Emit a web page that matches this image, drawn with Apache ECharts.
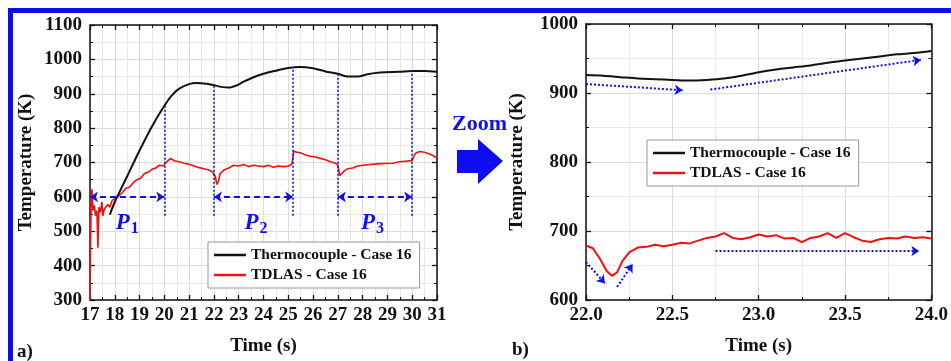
<!DOCTYPE html>
<html>
<head>
<meta charset="utf-8">
<script src="https://cdn.jsdelivr.net/npm/echarts@6/dist/echarts.min.js"></script>
<style>
html,body{margin:0;padding:0;background:#fff;}
#c{width:951px;height:361px;}
</style>
</head>
<body>
<div id="c"></div>
<script>
// ---------- Data ----------
// Panel a) thermocouple
var tcTimeA = [17.8,18.0,18.5,19.0,19.5,20.0,20.3,20.6,21.0,21.3,21.7,22.0,22.3,22.6,22.9,23.2,23.6,24.0,24.5,25.0,25.5,26.0,26.5,27.0,27.4,27.8,28.2,28.7,29.5,30.0,30.5,31.0];
var tcTempA = [548,585,660,735,805,865,895,915,928,931,929,925,920,918,924,935,948,958,967,975,978,974,965,958,950,950,957,962,964,966,966,964];
// Panel a) TDLAS
var tdTimeA = [17.00,17.02,17.05,17.08,17.12,17.18,17.22,17.28,17.32,17.36,17.42,17.48,17.52,17.58,17.65,17.72,17.80,17.90,18.00,18.15,18.30,18.45,18.60,18.75,18.90,19.05,19.20,19.35,19.50,19.65,19.80,19.95,20.10,20.25,20.40,20.60,20.80,21.00,21.20,21.40,21.60,21.80,21.95,22.05,22.12,22.18,22.25,22.40,22.60,22.80,23.00,23.20,23.40,23.60,23.80,24.00,24.20,24.40,24.60,24.80,25.00,25.15,25.22,25.35,25.50,25.70,25.90,26.10,26.30,26.50,26.70,26.90,27.00,27.08,27.15,27.25,27.40,27.60,27.80,28.00,28.30,28.60,28.90,29.20,29.50,29.80,30.00,30.12,30.30,30.50,30.70,30.90,31.00];
var tdTempA = [300,450,600,622,560,575,545,560,452,570,555,585,545,565,560,578,570,590,595,602,612,625,628,642,650,655,668,672,680,684,692,690,702,712,705,702,698,695,690,685,682,678,672,660,636,645,668,678,684,692,690,694,688,692,690,688,692,686,690,688,690,695,733,730,728,722,718,716,712,708,702,698,692,662,658,675,682,684,690,692,694,696,697,698,702,704,706,726,732,730,725,718,712];
// Panel b) thermocouple
var tcTimeB = [22.0,22.1,22.2,22.3,22.4,22.5,22.6,22.7,22.8,22.9,23.0,23.1,23.2,23.3,23.4,23.5,23.6,23.7,23.8,23.9,24.0];
var tcTempB = [926,925,923,921,920,919,918,919,921,925,930,934,937,940,944,947,950,953,956,958,961];
// Panel b) TDLAS
var tdTimeB = [22.00,22.04,22.08,22.12,22.15,22.18,22.21,22.25,22.30,22.35,22.40,22.45,22.50,22.55,22.60,22.65,22.70,22.75,22.80,22.85,22.90,22.95,23.00,23.05,23.10,23.15,23.20,23.25,23.30,23.35,23.40,23.45,23.50,23.55,23.60,23.65,23.70,23.75,23.80,23.85,23.90,23.95,24.00];
var tdTempB = [679,675,660,642,635,640,656,669,676,677,680,678,680,683,682,686,690,692,697,690,688,691,695,692,694,689,690,684,690,692,697,690,697,691,686,684,688,690,689,692,690,691,689];

// Annotations, panel a)
var periodStart = [17, 22, 27];
var periodEnd = [20, 25.2, 30];
var periodLevel = 600;
var dropTimes = [20, 22, 25.2, 27, 30];
var dropTops = [865, 925, 978, 958, 966];
var dropBottom = 545;
var pLabels = ['1', '2', '3'];
var pLabelTime = [18.5, 23.7, 28.4];
var pLabelTemp = 524;
// Annotations, panel b): [x0, y0, x1, y1]
var trendArrowsB = [
  [22.0, 913, 22.56, 904],
  [22.72, 905, 23.94, 948],
  [22.75, 671, 23.93, 671],
  [22.0, 655, 22.11, 624],
  [22.18, 619, 22.27, 652]
];

var seriesNames = ['Thermocouple - Case 16', 'TDLAS - Case 16'];

function zip(a, b) { return a.map(function (v, i) { return [v, b[i]]; }); }

var FONT = 'Liberation Serif';
var BLUE = '#1010ee';
var axisLineStyle = { color: '#111', width: 1.5 };

function mkX(grid, min, max, interval, showLabel, pos, name) {
  return {
    type: 'value', gridIndex: grid, min: min, max: max, interval: interval, position: pos,
    name: name || '', nameLocation: 'middle', nameGap: 37,
    nameTextStyle: { fontFamily: FONT, fontWeight: 'bold', fontSize: 19, color: '#111' },
    axisLine: { show: true, onZero: false, lineStyle: axisLineStyle },
    axisTick: { show: true, inside: true, length: 5, lineStyle: { color: '#111', width: 1.3 } },
    minorTick: { show: true, splitNumber: 2, length: 3, lineStyle: { color: '#111', width: 1 } },
    axisLabel: { show: showLabel, margin: 6, fontFamily: FONT, fontWeight: 'bold', fontSize: 19, color: '#111',
      formatter: function (v) { return interval < 1 ? v.toFixed(1) : String(v); } },
    splitLine: { show: showLabel, lineStyle: { color: '#dcdcdc', width: 1 } },
    minorSplitLine: { show: showLabel, lineStyle: { color: '#e8e8e8', width: 1 } }
  };
}
function mkY(grid, min, max, interval, showLabel, pos, name, gap) {
  return {
    type: 'value', gridIndex: grid, min: min, max: max, interval: interval, position: pos,
    name: name || '', nameLocation: 'middle', nameGap: gap || 50,
    nameTextStyle: { fontFamily: FONT, fontWeight: 'bold', fontSize: 19, color: '#111' },
    axisLine: { show: true, onZero: false, lineStyle: axisLineStyle },
    axisTick: { show: true, inside: true, length: 5, lineStyle: { color: '#111', width: 1.3 } },
    minorTick: { show: true, splitNumber: 2, length: 3, lineStyle: { color: '#111', width: 1 } },
    axisLabel: { show: showLabel, margin: 8, fontFamily: FONT, fontWeight: 'bold', fontSize: 19, color: '#111',
      formatter: function (v) { return String(v); } },
    splitLine: { show: showLabel, lineStyle: { color: '#dcdcdc', width: 1 } },
    minorSplitLine: { show: showLabel, lineStyle: { color: '#e8e8e8', width: 1 } }
  };
}

// markLines for panel a)
var periodLines = periodStart.map(function (s, i) {
  return [{ coord: [s, periodLevel] }, { coord: [periodEnd[i], periodLevel] }];
});
var dropLines = dropTimes.map(function (t, i) {
  return [{ coord: [t, dropBottom] }, { coord: [t, dropTops[i]] }];
});
var pPoints = pLabels.map(function (l, i) {
  return { coord: [pLabelTime[i], pLabelTemp], value: l };
});
var trendLinesB = trendArrowsB.map(function (a) {
  return [{ coord: [a[0], a[1]] }, { coord: [a[2], a[3]] }];
});

var legendCommon = {
  orient: 'vertical', selectedMode: false, data: seriesNames,
  icon: 'rect', itemWidth: 32, itemHeight: 2.5, itemGap: 4,
  padding: [5, 8, 5, 6],
  backgroundColor: '#fff', borderColor: '#999', borderWidth: 1, borderRadius: 0,
  textStyle: { fontFamily: FONT, fontWeight: 'bold', fontSize: 15.5, color: '#111', lineHeight: 16 }
};

var option = {
  animation: false,
  backgroundColor: '#fff',
  grid: [
    { left: 90, right: 514, top: 25, bottom: 58 },
    { left: 586, right: 19, top: 24, bottom: 57 }
  ],
  xAxis: [
    mkX(0, 17, 31, 1, true, 'bottom', 'Time (s)'),
    mkX(0, 17, 31, 1, false, 'top'),
    mkX(1, 22, 24, 0.5, true, 'bottom', 'Time (s)'),
    mkX(1, 22, 24, 0.5, false, 'top')
  ],
  yAxis: [
    mkY(0, 300, 1100, 100, true, 'left', 'Temperature (K)', 54),
    mkY(0, 300, 1100, 100, false, 'right'),
    mkY(1, 600, 1000, 100, true, 'left', 'Temperature (K)', 59),
    mkY(1, 600, 1000, 100, false, 'right')
  ],
  legend: [
    Object.assign({ left: 208, top: 242 }, legendCommon),
    Object.assign({ left: 647, top: 140 }, legendCommon)
  ],
  series: [
    {
      name: seriesNames[1], type: 'line', xAxisIndex: 0, yAxisIndex: 0, symbol: 'none',
      data: zip(tdTimeA, tdTempA), lineStyle: { color: '#f01010', width: 1.6 }, itemStyle: { color: '#f01010' }, z: 3,
      markPoint: {
        symbol: 'rect', symbolSize: 1, itemStyle: { color: 'rgba(0,0,0,0)' },
        label: {
          show: true, position: 'inside',
          formatter: function (p) { return '{p|P}{s|' + p.value + '}'; },
          rich: {
            p: { fontFamily: FONT, fontStyle: 'italic', fontWeight: 'bold', fontSize: 23, color: BLUE },
            s: { fontFamily: FONT, fontWeight: 'bold', fontSize: 16, color: BLUE, padding: [12, 0, 0, 1] }
          }
        },
        data: pPoints
      }
    },
    {
      name: seriesNames[0], type: 'line', xAxisIndex: 0, yAxisIndex: 0, symbol: 'none', smooth: 0.3,
      data: zip(tcTimeA, tcTempA), lineStyle: { color: '#111', width: 2 }, itemStyle: { color: '#111' }, z: 4,
      markLine: {
        silent: true, symbol: ['arrow', 'arrow'], symbolSize: [8, 8], label: { show: false },
        lineStyle: { color: BLUE, type: [6, 4], width: 2 },
        data: periodLines
      }
    },
    {
      name: '_drops', type: 'line', xAxisIndex: 0, yAxisIndex: 0, symbol: 'none', data: [],
      markLine: {
        silent: true, symbol: ['none', 'none'], label: { show: false },
        lineStyle: { color: BLUE, type: [2, 2], width: 1.6 },
        data: dropLines
      }
    },
    {
      name: seriesNames[1], type: 'line', xAxisIndex: 2, yAxisIndex: 2, symbol: 'none',
      data: zip(tdTimeB, tdTempB), lineStyle: { color: '#f01010', width: 2 }, itemStyle: { color: '#f01010' }, z: 3
    },
    {
      name: seriesNames[0], type: 'line', xAxisIndex: 2, yAxisIndex: 2, symbol: 'none', smooth: 0.3,
      data: zip(tcTimeB, tcTempB), lineStyle: { color: '#111', width: 2 }, itemStyle: { color: '#111' }, z: 4,
      markLine: {
        silent: true, symbol: ['none', 'arrow'], symbolSize: [8, 8], label: { show: false },
        lineStyle: { color: BLUE, type: [2, 2], width: 2 },
        data: trendLinesB
      }
    }
  ],
  graphic: [
    { type: 'rect', shape: { x: 8, y: 8, width: 943, height: 5 }, style: { fill: '#0d0df2' }, silent: true },
    { type: 'rect', shape: { x: 8, y: 8, width: 5, height: 353 }, style: { fill: '#0d0df2' }, silent: true },
    { type: 'text', left: 452, top: 113, style: { text: 'Zoom', fill: BLUE, font: 'bold 22px "Liberation Serif"' } },
    { type: 'polygon', shape: { points: [[457, 150], [478, 150], [478, 139], [503, 161], [478, 184], [478, 173], [457, 173]] }, style: { fill: '#0d0df2' } },
    { type: 'text', left: 17, top: 343, style: { text: 'a)', fill: '#111', font: 'bold 19px "Liberation Serif"' } },
    { type: 'text', left: 512, top: 341, style: { text: 'b)', fill: '#111', font: 'bold 19px "Liberation Serif"' } }
  ]
};

var chart = echarts.init(document.getElementById('c'), null, { renderer: 'canvas' });
chart.setOption(option);
</script>
</body>
</html>
